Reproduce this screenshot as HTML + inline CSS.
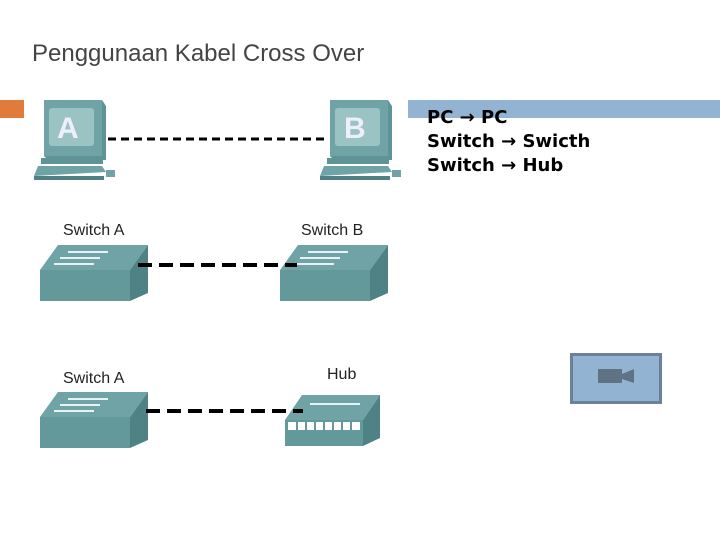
<!DOCTYPE html>
<html><head><style>
body{margin:0;width:720px;height:540px;background:#fff;overflow:hidden;position:relative;font-family:"Liberation Sans",sans-serif}
</style></head><body>
<svg width="720" height="540" style="position:absolute;left:0;top:0">
<defs>
<g id="pc">
<polygon points="0,0 58,0 62,6 62,60 4,60 0,56" fill="#5f9496"/>
<rect x="0" y="0" width="58" height="56" fill="#6fa3a5"/>
<rect x="5" y="8" width="45" height="38" rx="3" fill="#9cc3c4"/>
<rect x="-3" y="58" width="62" height="6" fill="#5f9496"/>
<polygon points="-6,66 58,66 62,72 -10,76" fill="#6fa3a5"/>
<rect x="-10" y="76" width="70" height="4" fill="#4f8284"/>
<rect x="62" y="70" width="9" height="7" fill="#6fa3a5"/>
</g>
<g id="sw">
<polygon points="0,25 18,0 108,0 90,25" fill="#6fa3a5"/>
<polygon points="90,25 108,0 108,48 90,56" fill="#4f8284"/>
<rect x="0" y="25" width="90" height="31" fill="#64999b"/>
<rect x="28" y="6" width="40" height="2" fill="#e8f2f2"/>
<rect x="20" y="12" width="40" height="2" fill="#e8f2f2"/>
<rect x="14" y="18" width="40" height="2" fill="#e8f2f2"/>
</g>
</defs>
<rect x="0" y="100" width="24" height="18" fill="#e07b3c"/>
<rect x="408" y="100" width="312" height="18" fill="#93b3d2"/>
<use href="#pc" x="44" y="100"/>
<use href="#pc" x="330" y="100"/>
<text x="57" y="138" font-size="30" font-weight="bold" fill="#eef">A</text>
<text x="344" y="138" font-size="30" font-weight="bold" fill="#eef">B</text>
<line x1="108" y1="139" x2="328" y2="139" stroke="#000" stroke-width="3" stroke-dasharray="8,5"/>
<text x="63" y="235" font-size="16" fill="#222">Switch A</text>
<text x="301" y="235" font-size="16" fill="#222">Switch B</text>
<use href="#sw" x="40" y="245"/>
<use href="#sw" x="280" y="245"/>
<line x1="138" y1="265" x2="297" y2="265" stroke="#000" stroke-width="4" stroke-dasharray="14,7"/>
<text x="63" y="383" font-size="16" fill="#222">Switch A</text>
<text x="327" y="379" font-size="16" fill="#222">Hub</text>
<use href="#sw" x="40" y="392"/>
<polygon points="285,420 302,395 380,395 363,420" fill="#6fa3a5"/>
<rect x="310" y="403" width="50" height="2" fill="#e8f2f2"/>
<polygon points="363,420 380,395 380,438 363,446" fill="#4f8284"/>
<rect x="285" y="420" width="78" height="26" fill="#64999b"/>
<rect x="288" y="422" width="72" height="8" fill="#fff"/>
<g stroke="#64999b" stroke-width="2">
<line x1="297" y1="422" x2="297" y2="430"/><line x1="306" y1="422" x2="306" y2="430"/><line x1="315" y1="422" x2="315" y2="430"/><line x1="324" y1="422" x2="324" y2="430"/><line x1="333" y1="422" x2="333" y2="430"/><line x1="342" y1="422" x2="342" y2="430"/><line x1="351" y1="422" x2="351" y2="430"/>
</g>
<line x1="146" y1="411" x2="303" y2="411" stroke="#000" stroke-width="4" stroke-dasharray="14,7"/>
<rect x="571.5" y="354.5" width="89" height="48" fill="#93b3d2" stroke="#6b8199" stroke-width="3"/>
<rect x="598" y="369" width="24" height="14" fill="#5f7385"/>
<polygon points="622,374 634,369 634,383 622,379" fill="#5f7385"/>
</svg>
<div style="position:absolute;left:32px;top:40px;font-size:24px;color:#444">Penggunaan Kabel Cross Over</div>
<div style="position:absolute;left:427px;top:106px;font-size:18px;font-weight:bold;line-height:24px;color:#000;font-family:'DejaVu Sans','Liberation Sans',sans-serif">PC → PC<br>Switch → Swicth<br>Switch → Hub</div>
</body></html>
